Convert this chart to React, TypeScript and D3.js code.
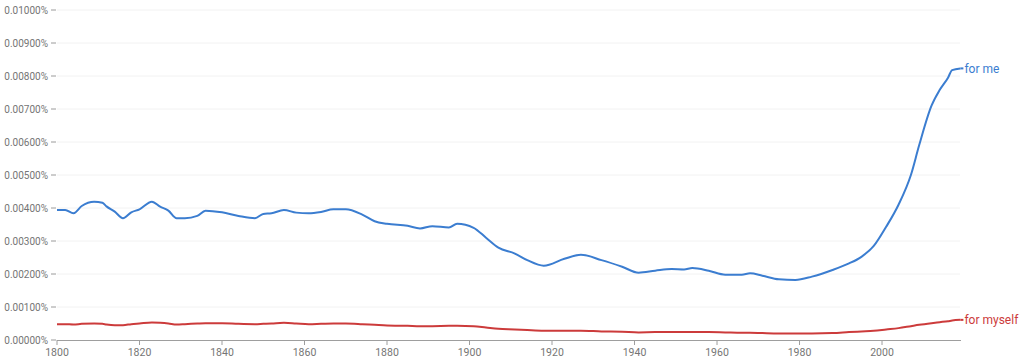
import React from "react";
import * as d3 from "d3";

const years = [1800,1802,1804,1806,1809,1811,1812,1814,1816,1818,1820,1823,1825,1827,1829,1831,1834,1836,1840,1844,1848,1850,1852,1855,1858,1861,1864,1867,1870,1874,1877,1880,1885,1888,1891,1895,1897,1901,1904,1907,1911,1914,1918,1923,1927,1932,1937,1941,1945,1949,1952,1954,1958,1962,1966,1968,1971,1975,1979,1983,1988,1992,1995,1998,2001,2004,2007,2009,2012,2014,2016,2017,2019];

const forMe = [3.94,3.94,3.84,4.06,4.19,4.16,4.05,3.89,3.69,3.87,3.96,4.19,4.04,3.92,3.69,3.69,3.76,3.92,3.87,3.76,3.69,3.82,3.84,3.94,3.86,3.84,3.88,3.96,3.96,3.80,3.60,3.52,3.46,3.38,3.45,3.41,3.52,3.40,3.10,2.80,2.62,2.42,2.25,2.46,2.58,2.42,2.22,2.04,2.10,2.15,2.14,2.18,2.10,1.98,1.98,2.02,1.95,1.84,1.82,1.92,2.12,2.32,2.52,2.85,3.43,4.10,5.00,5.90,7.10,7.58,7.95,8.18,8.23];

const forMyself = [0.48,0.48,0.47,0.49,0.50,0.49,0.47,0.45,0.45,0.48,0.50,0.53,0.52,0.50,0.47,0.48,0.50,0.51,0.51,0.49,0.48,0.49,0.50,0.52,0.50,0.48,0.49,0.50,0.50,0.48,0.46,0.44,0.43,0.42,0.42,0.43,0.43,0.42,0.38,0.34,0.32,0.30,0.28,0.28,0.28,0.26,0.25,0.23,0.24,0.24,0.24,0.24,0.24,0.23,0.22,0.22,0.21,0.20,0.20,0.20,0.21,0.24,0.26,0.28,0.32,0.36,0.42,0.46,0.51,0.54,0.57,0.59,0.61];

// values are in thousandths of a percent (×0.001%)
const yTicks = [0,1,2,3,4,5,6,7,8,9,10];
const xTicks = [1800,1820,1840,1860,1880,1900,1920,1940,1960,1980,2000];

const seriesNames = ["for me", "for myself"];
const seriesColors = ["#3b7dd0", "#cc3b3b"];

export default function App() {
  const W = 1024, H = 360;
  const x = d3.scaleLinear().domain([1800, 2019]).range([57, 960.4]);
  const y = d3.scaleLinear().domain([0, 10]).range([340, 10]);
  const line = d3.line<[number, number]>()
    .x(d => x(d[0]))
    .y(d => y(d[1]))
    .curve(d3.curveMonotoneX);
  const series = [forMe, forMyself];
  const font = "Roboto, 'Open Sans', sans-serif";
  return (
    <svg width={W} height={H} style={{ position: "absolute", left: 0, top: 0, background: "#fff" }}
      fontFamily={font}>
      {yTicks.map(t => (
        <g key={t}>
          {t > 0 && <line x1={57} x2={960} y1={y(t)} y2={y(t)} stroke="#f2f2f2" strokeWidth={1} />}
          <line x1={51} x2={56} y1={y(t)} y2={y(t)} stroke="#9a9a9a" strokeWidth={1} />
          <text x={48} y={y(t)} dy="0.35em" textAnchor="end" fontSize={10} fill="#757575">
            {(t * 0.001).toFixed(5) + "%"}
          </text>
        </g>
      ))}
      <line x1={57} x2={961} y1={340.5} y2={340.5} stroke="#9e9e9e" strokeWidth={1} />
      {xTicks.map(t => (
        <g key={t}>
          <line x1={x(t)} x2={x(t)} y1={340} y2={345} stroke="#9e9e9e" strokeWidth={1} />
          <text x={x(t)} y={352} dy="0.35em" textAnchor="middle" fontSize={10.5} fill="#757575">{t}</text>
        </g>
      ))}
      {series.map((vals, i) => {
        const pts = years.map((yr, j) => [yr, vals[j]] as [number, number]);
        const last = pts[pts.length - 1];
        return (
          <g key={i}>
            <path d={line(pts) || ""} fill="none" stroke={seriesColors[i]} strokeWidth={2} />
            <line x1={x(last[0])} x2={x(last[0]) + 3} y1={y(last[1])} y2={y(last[1])} stroke={seriesColors[i]} strokeWidth={2} />
            <text x={x(last[0]) + 4} y={y(last[1])} dy="0.35em" fontSize={12} fill={seriesColors[i]}>{seriesNames[i]}</text>
          </g>
        );
      })}
    </svg>
  );
}
